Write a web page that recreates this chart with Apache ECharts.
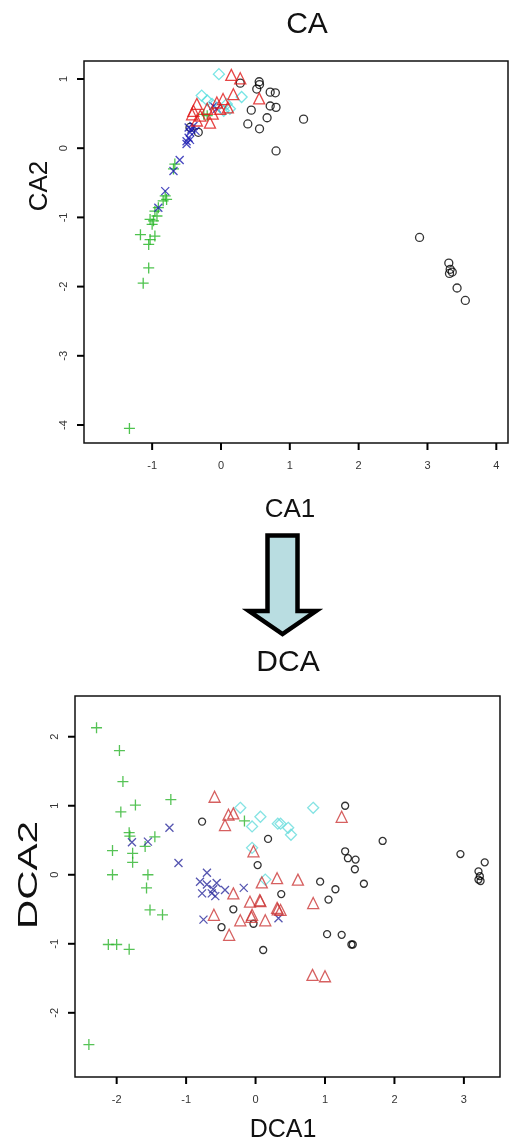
<!DOCTYPE html>
<html><head><meta charset="utf-8">
<script src="https://cdn.jsdelivr.net/npm/echarts@6/dist/echarts.min.js"></script>
<style>html,body{margin:0;padding:0;background:#fff}#c{width:514px;height:1142px}</style>
</head><body><div id="c"></div>
<script>
// ---------- CA ordination scores ----------
var caCircles = [[0.555,0.96],[0.52,0.855],[0.56,0.92],[0.715,0.81],[0.79,0.80],[0.715,0.61],[0.80,0.59],[0.44,0.55],[0.67,0.44],[0.39,0.35],[0.56,0.28],[1.20,0.42],[0.80,-0.04],[0.28,0.94],[-0.33,0.23],[-0.45,0.30],
  [2.885,-1.29],[3.31,-1.66],[3.33,-1.75],[3.36,-1.79],[3.32,-1.81],[3.43,-2.02],[3.55,-2.20]];
var caTriangles = [[0.15,1.06],[0.28,1.01],[0.18,0.78],[0.555,0.72],[-0.35,0.64],[-0.40,0.54],[-0.42,0.49],[-0.30,0.47],[-0.16,0.37],[-0.01,0.57],[0.03,0.71],[-0.06,0.66],[-0.20,0.57],[-0.35,0.40],[-0.12,0.50],[0.10,0.59]];
var caDiamonds = [[-0.03,1.07],[0.30,0.74],[-0.28,0.76],[-0.20,0.69],[-0.13,0.64],[0.13,0.57],[0.04,0.54],[0.085,0.64]];
var caPlus = [[-0.67,-0.23],[-0.69,-0.30],[-0.81,-0.69],[-0.79,-0.74],[-0.84,-0.76],[-0.91,-0.86],[-0.96,-0.91],[-0.93,-0.98],[-1.03,-1.03],[-0.98,-1.05],[-1.00,-1.10],[-1.17,-1.25],[-0.96,-1.27],[-1.03,-1.32],[-1.05,-1.39],[-1.05,-1.73],[-1.13,-1.95],[-1.33,-4.05],[-0.25,0.49],[-0.20,0.47]];
var caCross = [[-0.60,-0.17],[-0.69,-0.33],[-0.81,-0.62],[-0.91,-0.86],[-0.50,0.06],[-0.47,0.15],[-0.45,0.23],[-0.43,0.27],[-0.47,0.30],[-0.40,0.32],[-0.37,0.25],[-0.45,0.12],[-0.50,0.10],[-0.06,0.57],[-0.11,0.61]];
var caXTicks = [-1,0,1,2,3,4];
var caYTicks = [-4,-3,-2,-1,0,1];

// ---------- DCA ordination scores ----------
var dcaCircles = [[-0.77,0.77],[0.18,0.52],[0.03,0.14],[-0.32,-0.50],[1.29,1.00],[1.83,0.49],[1.29,0.34],[1.33,0.24],[1.44,0.22],[1.43,0.08],[1.56,-0.13],[0.93,-0.10],[1.15,-0.21],[1.05,-0.36],[0.37,-0.28],
  [2.95,0.30],[3.30,0.18],[3.21,0.05],[3.23,-0.02],[3.21,-0.07],[3.24,-0.09],[-0.49,-0.76],[-0.03,-0.71],[0.11,-1.09],[1.03,-0.86],[1.24,-0.87],[1.38,-1.01],[1.40,-1.01]];
var dcaTriangles = [[-0.59,1.13],[-0.39,0.87],[-0.32,0.89],[-0.44,0.72],[-0.03,0.34],[-0.32,-0.27],[0.09,-0.11],[0.31,-0.05],[1.24,0.84],[0.61,-0.07],[-0.08,-0.39],[0.06,-0.37],[0.32,-0.50],[0.83,-0.41],
  [-0.60,-0.58],[0.07,-0.38],[-0.22,-0.66],[-0.06,-0.61],[0.14,-0.66],[0.31,-0.48],[0.36,-0.51],[-0.38,-0.87],[0.82,-1.45],[1.00,-1.47],[-0.05,-0.58]];
var dcaDiamonds = [[-0.22,0.97],[0.07,0.84],[-0.05,0.70],[0.32,0.74],[-0.05,0.39],[0.14,-0.07],[0.83,0.97],[0.36,0.74],[0.47,0.68],[0.51,0.58]];
var dcaPlus = [[-2.29,2.13],[-1.96,1.80],[-1.91,1.35],[-1.73,1.01],[-1.94,0.91],[-1.22,1.09],[-1.82,0.61],[-1.81,0.56],[-1.45,0.55],[-1.59,0.41],[-2.06,0.35],[-1.77,0.31],[-1.77,0.18],[-2.06,0.00],[-1.55,0.00],[-1.57,-0.19],[-1.52,-0.51],[-1.34,-0.58],[-2.12,-1.01],[-2.00,-1.01],[-1.82,-1.08],[-2.40,-2.46],[-0.16,0.78]];
var dcaCross = [[-1.24,0.68],[-1.78,0.47],[-1.55,0.48],[-1.11,0.17],[-0.70,0.03],[-0.80,-0.10],[-0.70,-0.14],[-0.61,-0.21],[-0.63,-0.27],[-0.77,-0.27],[-0.56,-0.12],[-0.44,-0.22],[-0.17,-0.19],[-0.75,-0.65],[0.33,-0.63],[-0.58,-0.31]];
var dcaXTicks = [-2,-1,0,1,2,3];
var dcaYTicks = [-2,-1,0,1,2];

var FONT = 'Liberation Sans, Arial, sans-serif';
var PLUS = 'path://M5,0L5,10M0,5L10,5';
var CROSS = 'path://M0,0L10,10M10,0L0,10';
var ranges = [{x:[-1.99,4.17], y:[-4.26,1.26]}, {x:[-2.6,3.52], y:[-2.93,2.59]}];
var TICK = 7;

function xAxis(idx, ticks) {
  return {type:'value', gridIndex:idx, min:ranges[idx].x[0], max:ranges[idx].x[1], position:'bottom',
    axisLine:{show:false, onZero:false}, splitLine:{show:false}, axisTick:{show:false},
    axisLabel:{show:true, margin:17, fontSize:11, color:'#333', fontFamily:FONT, customValues:ticks, formatter:function(v){return String(v);}}};
}
function yAxis(idx, ticks) {
  return {type:'value', gridIndex:idx, min:ranges[idx].y[0], max:ranges[idx].y[1], position:'left',
    axisLine:{show:false, onZero:false}, splitLine:{show:false}, axisTick:{show:false},
    axisLabel:{show:true, rotate:90, margin:15, fontSize:11, color:'#333', fontFamily:FONT, customValues:ticks, formatter:function(v){return String(v);}}};
}
function sc(idx, data, symbol, size, color, bw) {
  return {type:'scatter', xAxisIndex:idx, yAxisIndex:idx, data:data, symbol:symbol, symbolSize:size,
    silent:true, animation:false,
    itemStyle:{color:'rgba(0,0,0,0)', borderColor:color, borderWidth:bw||1.3}};
}
// tick marks drawn as a custom series positioned by the axes' own scales
function ticks(gi, vals, dir) {
  var r = ranges[gi];
  return {type:'custom', xAxisIndex:gi, yAxisIndex:gi, clip:false, silent:true, animation:false, z:20,
    data: vals.map(function(v){ return dir === 'x' ? [v, r.y[0]] : [r.x[0], v]; }),
    renderItem: function(params, api) {
      var p = api.coord([api.value(0), api.value(1)]);
      var shape = dir === 'x' ? {x1:p[0], y1:p[1], x2:p[0], y2:p[1]+TICK} : {x1:p[0], y1:p[1], x2:p[0]-TICK, y2:p[1]};
      return {type:'line', shape:shape, style:{stroke:'#000', lineWidth:2}};
    }};
}

var chart = echarts.init(document.getElementById('c'), null, {renderer:'canvas'});
chart.setOption({
  animation:false,
  backgroundColor:'#fff',
  grid:[
    {left:84, top:61, width:424, height:382, show:true, borderColor:'#111', borderWidth:1.5, backgroundColor:'transparent'},
    {left:75, top:696, width:425, height:381, show:true, borderColor:'#111', borderWidth:1.5, backgroundColor:'transparent'}
  ],
  xAxis:[xAxis(0,caXTicks), xAxis(1,dcaXTicks)],
  yAxis:[yAxis(0,caYTicks), yAxis(1,dcaYTicks)],
  series:[
    sc(0, caCircles, 'circle', 8, '#000'),
    sc(0, caPlus, PLUS, 11, '#22b422'),
    sc(0, caCross, CROSS, 8, '#1c1cb0'),
    sc(0, caDiamonds, 'diamond', 11, '#55dede'),
    sc(0, caTriangles, 'triangle', 11, '#e01818'),
    sc(1, dcaCircles, 'circle', 7, '#000'),
    sc(1, dcaPlus, PLUS, 11, '#2cb42c'),
    sc(1, dcaCross, CROSS, 8, '#2a2a9c'),
    sc(1, dcaDiamonds, 'diamond', 11, '#66dcdc'),
    sc(1, dcaTriangles, 'triangle', 11, '#cc3838'),
    ticks(0, caXTicks, 'x'), ticks(0, caYTicks, 'y'),
    ticks(1, dcaXTicks, 'x'), ticks(1, dcaYTicks, 'y')
  ],
  graphic:[
    {type:'text', style:{text:'CA', x:307, y:25, font:'30px '+FONT, fill:'#111', align:'center', verticalAlign:'middle'}},
    {type:'text', style:{text:'CA1', x:290, y:510, font:'26px '+FONT, fill:'#111', align:'center', verticalAlign:'middle'}},
    {type:'text', x:40, y:186, rotation:Math.PI/2, style:{text:'CA2', x:0, y:0, font:'26px '+FONT, fill:'#111', align:'center', verticalAlign:'middle'}},
    {type:'polygon', shape:{points:[[267.5,535.5],[297.5,535.5],[297.5,611],[316,611],[282.5,634],[249,611],[267.5,611]]},
      style:{fill:'#b9dde1', stroke:'#000', lineWidth:4.5, lineJoin:'miter'}},
    {type:'text', style:{text:'DCA', x:288, y:663, font:'30px '+FONT, fill:'#111', align:'center', verticalAlign:'middle'}},
    {type:'text', style:{text:'DCA1', x:283, y:1130, font:'25px '+FONT, fill:'#111', align:'center', verticalAlign:'middle'}},
    {type:'text', x:30, y:875, rotation:Math.PI/2, scaleX:1.5, style:{text:'DCA2', x:0, y:0, font:'27px '+FONT, fill:'#111', align:'center', verticalAlign:'middle'}}
  ]
});
</script>
</body></html>
